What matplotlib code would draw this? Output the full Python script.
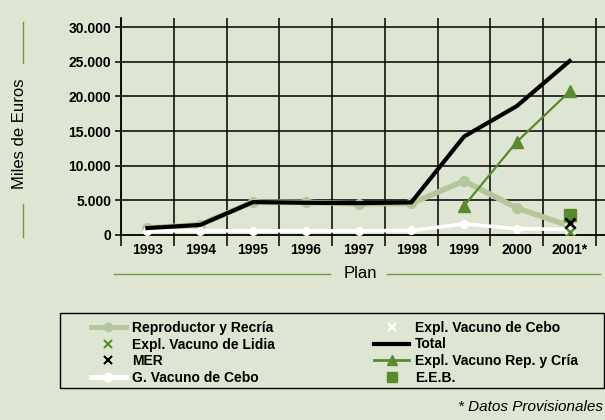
import numpy as np
import matplotlib
matplotlib.use('Agg')
import matplotlib.pyplot as plt
from matplotlib.lines import Line2D
from matplotlib.patches import Rectangle

plt.rcParams['font.family'] = ['Liberation Sans', 'DejaVu Sans']

years = ['1993', '1994', '1995', '1996', '1997', '1998', '1999', '2000', '2001*']
total = [1000, 1450, 4750, 4650, 4600, 4700, 14200, 18600, 25100]
reproductor = [1000, 1500, 4750, 4700, 4500, 4550, 7800, 3900, 1300]
g_cebo = [600, 600, 600, 600, 600, 650, 1600, 900, 800]
rep_cria = [None, None, None, None, None, None, 4200, 13450, 20700]
eeb_2001 = 2900
mer_2001 = 1700
lidia_2001 = 500
expl_cebo_2001 = 800
yticks = [0, 5000, 10000, 15000, 20000, 25000, 30000]
ytick_labels = ['0', '5.000', '10.000', '15.000', '20.000', '25.000', '30.000']

bg = '#dfe5d3'
light_green = '#b4c69b'
dark_green = '#5b8a2e'
line_green = '#6f9b3f'

fig = plt.figure(figsize=(6.05, 4.2), dpi=100)
fig.patch.set_facecolor(bg)
ax = fig.add_axes([121/605, 1-235/420, 484/605, 217/420])
ax.set_facecolor(bg)

x = np.arange(len(years))
rc_x = [i for i, v in enumerate(rep_cria) if v is not None]
rc_y = [v for v in rep_cria if v is not None]

ax.plot(x, reproductor, color=light_green, lw=4, marker='o', markersize=7, zorder=3)
ax.plot(x, g_cebo, color='white', lw=2.6, marker='o', markersize=5.5, zorder=3)
ax.plot(x, total, color='black', lw=3, zorder=4)
ax.plot(rc_x, rc_y, color=dark_green, lw=1.6, marker='^', markersize=8, zorder=5)
ax.plot([8], [eeb_2001], marker='s', color=dark_green, markersize=8, lw=0, zorder=6)
ax.plot([8], [expl_cebo_2001], marker='x', color='white', markersize=7, mew=1.8, lw=0, zorder=6)
ax.plot([8], [lidia_2001], marker='x', color=dark_green, markersize=7, mew=1.8, lw=0, zorder=6)
ax.plot([8], [mer_2001], marker='x', color='black', markersize=7.5, mew=2, lw=0, zorder=7)

# grid
for yv in yticks[1:]:
    ax.axhline(yv, color='black', lw=1.1, zorder=1)
for xv in np.arange(len(years) + 1) - 0.5:
    ax.axvline(xv, color='black', lw=1.1, zorder=1)

ax.set_xlim(-0.5, 8.5 + 9/52.8)
ax.set_ylim(0, 31300)
for s in ['top', 'right']:
    ax.spines[s].set_visible(False)
ax.spines['left'].set_linewidth(1.3)
ax.spines['bottom'].set_linewidth(1.3)

ax.set_xticks(np.arange(len(years) + 1) - 0.5)
ax.set_xticklabels([])
ax.set_xticks(x, minor=True)
ax.set_xticklabels(years, minor=True, fontsize=10, fontweight='bold')
ax.tick_params(axis='x', which='major', length=8, width=1.1, direction='out')
ax.tick_params(axis='x', which='minor', length=0, pad=6)
ax.set_yticks(yticks)
ax.set_yticklabels(ytick_labels, fontsize=10, fontweight='bold')
ax.tick_params(axis='y', length=4, width=1.1, pad=3)

# y label with side rules
fig.text(20/605, 1-134/420, 'Miles de Euros', rotation=90, ha='center', va='center', fontsize=12)
fig.add_artist(Line2D([23/605, 23/605], [1-22/420, 1-63/420], color=line_green, lw=1))
fig.add_artist(Line2D([23/605, 23/605], [1-204/420, 1-237/420], color=line_green, lw=1))

# x label with side rules
fig.text(360/605, 1-274/420, 'Plan', ha='center', va='center', fontsize=12)
fig.add_artist(Line2D([114/605, 330/605], [1-274/420, 1-274/420], color=line_green, lw=1))
fig.add_artist(Line2D([387/605, 600/605], [1-274/420, 1-274/420], color=line_green, lw=1))

handles = [
    Line2D([0], [0], color=light_green, lw=3.5, marker='o', markersize=6),
    Line2D([0], [0], color=dark_green, lw=0, marker='x', markersize=6, mew=1.5),
    Line2D([0], [0], color='black', lw=0, marker='x', markersize=6, mew=1.5),
    Line2D([0], [0], color='white', lw=3.5, marker='o', markersize=6),
    Line2D([0], [0], color='white', lw=0, marker='x', markersize=6, mew=1.5),
    Line2D([0], [0], color='black', lw=3),
    Line2D([0], [0], color=dark_green, lw=2, marker='^', markersize=7),
    Line2D([0], [0], color=dark_green, lw=0, marker='s', markersize=7),
]
labels = ['Reproductor y Recría', 'Expl. Vacuno de Lidia', 'MER', 'G. Vacuno de Cebo',
          'Expl. Vacuno de Cebo', 'Total', 'Expl. Vacuno Rep. y Cría', 'E.E.B.']
leg = fig.legend(handles, labels, ncol=2, loc='upper left',
                 bbox_to_anchor=(91/605, 1-321/420),
                 prop={'family': 'Liberation Sans', 'weight': 'bold', 'size': 10},
                 handlelength=2.5, handletextpad=0.45, labelspacing=0.18,
                 borderpad=0, frameon=False, columnspacing=7.15, borderaxespad=0)

fig.add_artist(Rectangle((60/605, 1-388/420), 544/605, 75/420, transform=fig.transFigure,
                         fill=False, edgecolor='black', lw=1))

fig.text(603/605, 1-407/420, '* Datos Provisionales', ha='right', va='center',
         fontsize=11, style='italic')

fig.savefig('out.png', dpi=100, facecolor=bg)
